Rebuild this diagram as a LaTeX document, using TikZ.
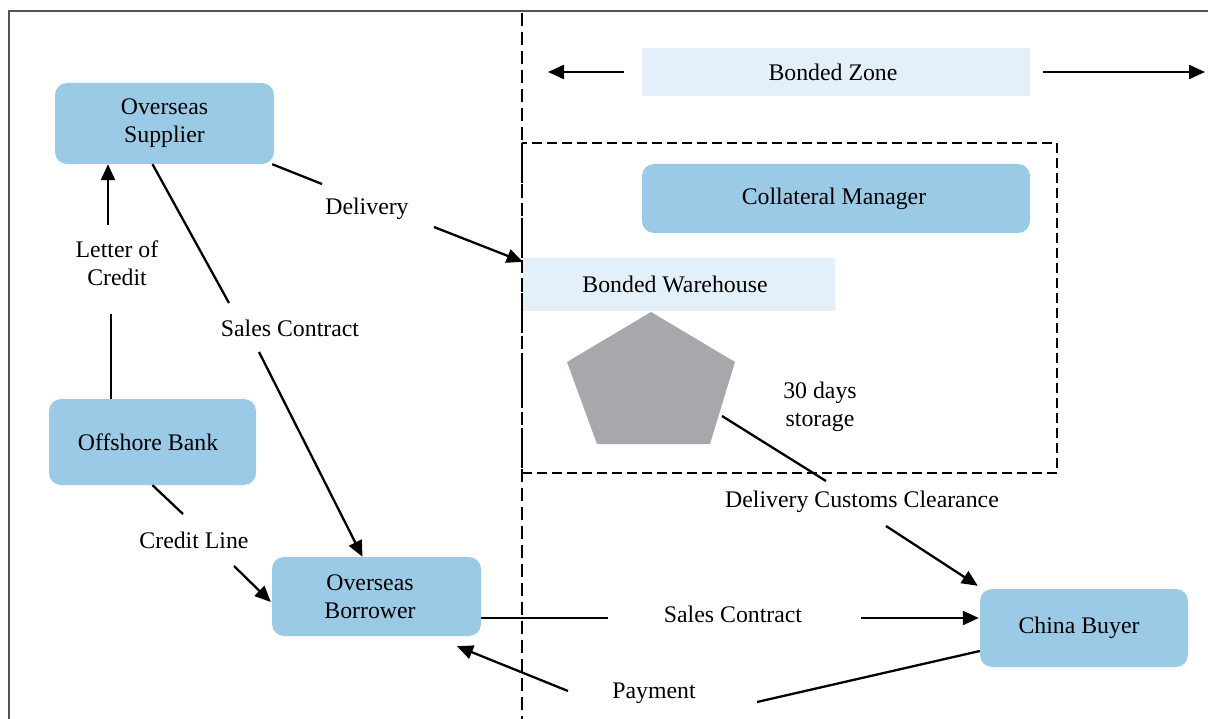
\documentclass[tikz,border=0pt]{standalone}
\usepackage{fontspec}
\setmainfont{Liberation Serif}
\usetikzlibrary{arrows.meta}
\definecolor{boxblue}{HTML}{9BCAE7}
\definecolor{lightblue}{HTML}{E3F0F9}
\definecolor{pentgray}{HTML}{A7A8AB}
\definecolor{framegray}{HTML}{555555}
\tikzset{
  box/.style={fill=boxblue, rounded corners=12pt, align=center, inner sep=0pt},
  lightbox/.style={fill=lightblue, align=center, inner sep=0pt},
  lbl/.style={align=center, inner sep=0pt},
  conn/.style={line width=2.3pt, black},
  arr/.style={conn, -{Triangle[length=16pt,width=14pt]}},
  zone/.style={line width=1.5pt, dash pattern=on 10pt off 5pt},
  vzone/.style={line width=1.5pt, dash pattern=on 13pt off 6pt},
}
\begin{document}
\begin{tikzpicture}[x=1pt,y=-1pt,font=\fontsize{23.8}{28}\selectfont]
\useasboundingbox (0,0) rectangle (1208,719);
% frame
\draw[framegray, line width=2pt] (9,719) -- (9,11) -- (1208,11);
% vertical zone separator
\draw[vzone] (522,13) -- (522,719);
% dashed warehouse area
\draw[zone] (522,143) rectangle (1057,473);

% nodes
\node[box, minimum width=219pt, minimum height=81pt] (sup) at (164.5,123.5) {Overseas\\Supplier};
\node[box, minimum width=207pt, minimum height=86pt] (bank) at (152.5,442) {\hspace*{-9pt}Offshore Bank};
\node[box, minimum width=209pt, minimum height=79pt] (bor) at (376.5,596.5) {\hspace*{-13pt}Overseas\\\hspace*{-13pt}Borrower};
\node[box, minimum width=208pt, minimum height=78pt] (buy) at (1084,628) {\hspace*{-10pt}China Buyer};
\node[box, minimum width=388pt, minimum height=69pt] (cm) at (836,198.5) {\hspace*{-4pt}Collateral Manager};
\node[lightbox, minimum width=388pt, minimum height=48pt] (bz) at (836,72) {\hspace*{-6pt}Bonded Zone};
\node[lightbox, minimum width=312pt, minimum height=53pt] (bw) at (679,284.5) {\hspace*{-8pt}Bonded Warehouse};

% pentagon (warehouse stock)
\coordinate (p1) at (651,312);
\coordinate (p2) at (735,362);
\coordinate (p3) at (710,444);
\coordinate (p4) at (597,444);
\coordinate (p5) at (567,362);
\fill[pentgray] (p1) -- (p2) -- (p3) -- (p4) -- (p5) -- cycle;

% labels
\node[lbl] (ldel) at (367,209) {Delivery};
\node[lbl] (lsc1) at (290,328) {Sales Contract};
\node[lbl] (lloc) at (117,263) {Letter of\\Credit};
\node[lbl] (lcl) at (194,540) {Credit Line};
\node[lbl] (lsc2) at (733,614) {Sales Contract};
\node[lbl] (lpay) at (654,693) {Payment};
\node[lbl] (ldcc) at (862,502) {Delivery Customs Clearance};
\node[lbl] (lst) at (820,407) {30 days\\storage};

% connector break points
\coordinate (c1a) at (322,184);
\coordinate (c1b) at (434,227);
\coordinate (c2a) at (229,303);
\coordinate (c2b) at (259,352);
\coordinate (c3a) at (111,314);
\coordinate (c3b) at (108,225);
\coordinate (c4a) at (183,514);
\coordinate (c4b) at (234,566);
\coordinate (c5a) at (608,618);
\coordinate (c5b) at (861,618);
\coordinate (c6a) at (757,702);
\coordinate (c6b) at (568,691);
\coordinate (c7s) at (722,416);
\coordinate (c7a) at (826,481);
\coordinate (c7b) at (886,526);
\coordinate (bzl) at (548,72);
\coordinate (bzr) at (1205,72);

% bonded zone arrows
\draw[arr] ([xshift=-18pt]bz.west) -- (bzl);
\draw[arr] ([xshift=13pt]bz.east) -- (bzr);

% delivery
\draw[conn] ([xshift=-2pt]sup.south east) -- (c1a);
\draw[arr] (c1b) -- ([yshift=-4pt]bw.north west);
% sales contract (supplier -> borrower)
\draw[conn] ([xshift=-12pt]sup.south) -- (c2a);
\draw[arr] (c2b) -- ([xshift=-14pt]bor.north);
% letter of credit
\draw[conn] ([xshift=-41.5pt]bank.north) -- (c3a);
\draw[arr] (c3b) -- ([xshift=-56.5pt]sup.south);
% credit line
\draw[conn] (bank.south) -- (c4a);
\draw[arr] (c4b) -- ([xshift=-1pt,yshift=-5.5pt]bor.west);
% sales contract (borrower -> buyer)
\draw[conn] ([yshift=-21.5pt]bor.east) -- (c5a);
\draw[arr] (c5b) -- ([xshift=-1pt,yshift=10pt]buy.west);
% payment
\draw[conn] ([yshift=-23pt]buy.west) -- (c6a);
\draw[arr] (c6b) -- ([xshift=80.5pt,yshift=-10pt]bor.south);
% delivery customs clearance
\draw[conn] (c7s) -- (c7a);
\draw[arr] (c7b) -- ([xshift=-2pt,yshift=3pt]buy.north west);
\end{tikzpicture}
\end{document}
